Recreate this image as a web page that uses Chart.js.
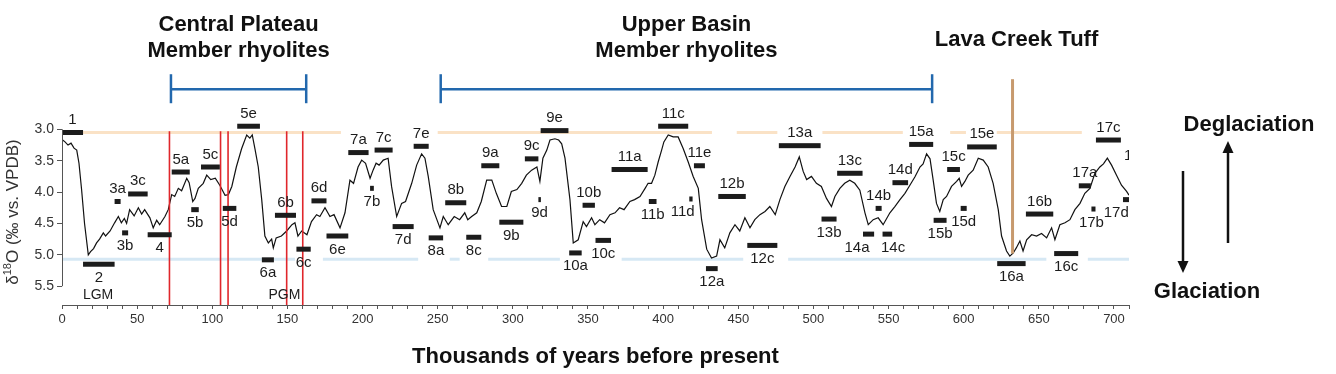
<!DOCTYPE html>
<html>
<head>
<meta charset="utf-8">
<title>Benthic δ18O record and marine isotope substages</title>
<script src="https://cdn.jsdelivr.net/npm/chart.js@4.4.1/dist/chart.umd.min.js"></script>
<style>
  html, body { margin: 0; padding: 0; background: #fff; }
  #wrap { width: 1336px; height: 374px; }
</style>
</head>
<body>
<div id="wrap"><canvas id="isoChart" width="1336" height="374"></canvas></div>
<script>
const FONT = "'Liberation Sans', Arial, Helvetica, sans-serif";

// d18O curve (age in ka, value in permil vs. VPDB)
const ages = [0, 2, 4, 6, 8, 9.8, 11.3, 13, 15, 17.5, 19, 21, 23, 25, 27.5, 29, 32, 35, 37.5, 39.5,
  41.5, 43, 45, 48, 50.8, 53, 55, 58.5, 60.7, 63, 65, 68.5, 70.7, 73, 75, 77.4, 79.6, 83, 84.6, 87,
  88.5, 90.7, 94, 96.3, 99, 102, 105, 108.5, 110.7, 113, 116, 119.5, 122.9, 125, 126.6, 128.4, 130.6, 132.9, 135, 137.3,
  139.5, 140.6, 142.5, 146, 149.5, 153, 155, 157, 159.5, 163, 166, 169.4, 171.6, 175, 178.3, 181, 185, 188.3, 191.6, 194,
  197, 199.4, 202, 205, 207, 209, 211, 213.8, 217, 219.3, 222.7, 226, 228.6, 232.7, 236, 239.3, 241.5, 243.7, 247, 251.5,
  253.7, 257, 261, 264.6, 268, 270, 272.6, 276, 279, 282.6, 286, 289, 292.5, 296, 299, 302.7, 305.9, 309, 312.5, 316,
  318, 320, 322.6, 324.7, 328, 330.5, 332.5, 334.7, 338, 340.2, 343.5, 346.8, 349, 352.4, 354.6, 357.8, 361, 364.6, 368, 371,
  374, 377.9, 381, 384.6, 388, 390, 392.3, 394.5, 396.7, 399, 400.5, 403.4, 406.7, 410, 413.4, 416.7, 420, 423.4, 425.6, 429,
  432.2, 435.6, 437.8, 441, 444.4, 447.8, 451, 454.4, 457.8, 461, 464.4, 467.8, 471, 474.6, 477.7, 481, 484.4, 487.8, 490.6, 493.2,
  495.5, 498.7, 502, 505.3, 508.7, 512, 514.3, 517.6, 520.8, 524.2, 527.5, 530.9, 534.3, 536.5, 539.8, 543.1, 546.4, 550.9, 554.2, 557.6,
  560.9, 564.2, 567.5, 570.9, 573, 575.3, 577.6, 579.7, 581.9, 584.1, 586.4, 588.6, 591.9, 595.3, 597, 598.6, 600.8, 603, 606.3, 609.7,
  613, 616.3, 619.6, 623, 625.2, 628.5, 630.7, 633, 635, 637.4, 639.5, 641.9, 645.2, 648.5, 651.8, 655.2, 658.5, 660.7, 664, 667.4,
  670.7, 674, 677.4, 680.6, 684, 687.3, 690.6, 693, 695.6, 698.4, 701.7, 705, 708.4, 710];
const d18O = [3.16, 3.20, 3.25, 3.22, 3.30, 3.33, 3.54, 3.95, 4.50, 5.00, 4.95, 4.90, 4.81, 4.75, 4.65, 4.70, 4.62, 4.49, 4.39, 4.49,
  4.42, 4.50, 4.28, 4.38, 4.25, 4.35, 4.28, 4.41, 4.57, 4.45, 4.52, 4.39, 4.28, 4.04, 4.07, 3.94, 3.98, 3.78, 3.85, 4.15,
  4.10, 3.94, 3.86, 3.73, 3.80, 3.78, 3.89, 4.05, 4.04, 3.91, 3.60, 3.31, 3.09, 3.14, 3.09, 3.31, 3.60, 4.12, 4.70, 4.81,
  4.75, 4.89, 4.73, 4.70, 4.62, 4.52, 4.49, 4.70, 4.62, 4.68, 4.47, 4.36, 4.39, 4.25, 4.39, 4.36, 4.57, 4.33, 3.81, 3.86,
  3.60, 3.49, 3.54, 3.78, 3.65, 3.54, 3.57, 3.49, 3.46, 3.91, 4.39, 4.18, 4.15, 3.86, 3.57, 3.39, 3.46, 3.75, 4.28, 4.57,
  4.39, 4.52, 4.39, 4.44, 4.33, 4.44, 4.39, 4.33, 4.15, 3.81, 3.81, 4.02, 4.23, 4.23, 3.99, 3.96, 3.86, 3.73, 3.65, 3.60,
  3.83, 3.46, 3.33, 3.17, 3.15, 3.17, 3.23, 3.46, 4.12, 4.81, 4.76, 4.47, 4.55, 4.41, 4.52, 4.44, 4.49, 4.36, 4.33, 4.25,
  4.28, 4.15, 4.12, 4.07, 3.94, 3.86, 3.86, 3.73, 3.52, 3.33, 3.20, 3.09, 3.12, 3.12, 3.31, 3.52, 3.75, 3.94, 4.44, 4.91,
  5.05, 5.02, 4.76, 4.89, 4.65, 4.52, 4.62, 4.41, 4.57, 4.44, 4.36, 4.31, 4.23, 4.36, 4.12, 3.91, 3.75, 3.60, 3.44, 3.67,
  3.80, 3.75, 3.86, 3.91, 4.10, 4.23, 4.07, 3.94, 3.86, 3.81, 3.86, 3.97, 4.33, 4.52, 4.44, 4.41, 4.52, 4.33, 4.23, 4.12,
  4.02, 3.89, 3.76, 3.60, 3.55, 3.39, 3.47, 3.81, 4.18, 4.31, 4.12, 4.07, 3.91, 3.83, 3.78, 3.91, 3.83, 3.73, 3.65, 3.46,
  3.49, 3.60, 3.86, 4.28, 4.70, 4.94, 5.02, 4.97, 4.89, 4.78, 4.94, 4.76, 4.68, 4.70, 4.66, 4.73, 4.57, 4.76, 4.52, 4.49,
  4.44, 4.28, 4.18, 4.02, 3.94, 3.70, 3.60, 3.55, 3.46, 3.57, 3.73, 3.89, 3.99, 4.05];

// marine isotope substages: name, age span (ka), level (permil), label above (a) or below (b)
const stageNames = ['1', '2', '3a', '3b', '3c', '4', '5a', '5b', '5c', '5d', '5e', '6a', '6b', '6c', '6d', '6e',
  '7a', '7b', '7c', '7d', '7e', '8a', '8b', '8c', '9a', '9b', '9c', '9d', '9e', '10a', '10b', '10c',
  '11a', '11b', '11c', '11d', '11e', '12a', '12b', '12c', '13a', '13b', '13c', '14a', '14b', '14c', '14d',
  '15a', '15b', '15c', '15d', '15e', '16a', '16b', '16c', '17a', '17b', '17c', '17d', '17e'];
const stageFrom = [0, 14, 35, 40, 44, 57, 73, 86, 92.5, 107, 116.6, 133, 141.7, 156, 166, 176,
  190.5, 205, 208, 220, 234, 244, 255, 269, 279, 291, 308, 317, 318.5, 337.5, 346.4, 355,
  365.7, 390.5, 396.7, 417.4, 420.5, 428.5, 436.7, 456, 477, 505.4, 515.8, 533, 541.4, 546, 552.6,
  563.7, 580, 589, 598, 602.3, 622.3, 641.4, 660.2, 676.6, 685, 688, 706, 714];
const stageTo = [14, 35, 39, 44, 57, 73, 85, 91, 105, 116, 131.7, 141, 155.7, 165.5, 176, 190.5,
  204, 207.5, 220, 234, 244, 253.6, 269, 279, 291, 307, 317, 318.5, 337, 345.8, 354.6, 365.3,
  389.7, 395.6, 416.7, 419.6, 427.8, 436.3, 455, 476, 504.8, 515.4, 532.7, 540.4, 545.4, 552.4, 563,
  579.7, 588.6, 597.5, 602, 622, 641.2, 659.6, 676.2, 684.6, 687.7, 704.6, 716, 724];
const stageLevel = [3.05, 5.15, 4.15, 4.65, 4.03, 4.68, 3.68, 4.28, 3.60, 4.26, 2.95, 5.08, 4.37, 4.91, 4.14, 4.70,
  3.37, 3.94, 3.33, 4.55, 3.27, 4.73, 4.17, 4.72, 3.58, 4.48, 3.47, 4.12, 3.02, 4.97, 4.21, 4.77,
  3.64, 4.15, 2.95, 4.11, 3.58, 5.22, 4.07, 4.85, 3.26, 4.43, 3.70, 4.67, 4.26, 4.67, 3.85,
  3.24, 4.45, 3.64, 4.26, 3.28, 5.14, 4.35, 4.98, 3.90, 4.27, 3.17, 4.12, 3.62];
const stageSide = ['a', 'b', 'a', 'b', 'a', 'b', 'a', 'b', 'a', 'b', 'a', 'b', 'a', 'b', 'a', 'b',
  'a', 'b', 'a', 'b', 'a', 'b', 'a', 'b', 'a', 'b', 'a', 'b', 'a', 'b', 'a', 'b',
  'a', 'b', 'a', 'b', 'a', 'b', 'a', 'b', 'a', 'b', 'a', 'b', 'a', 'b', 'a',
  'a', 'b', 'a', 'b', 'a', 'b', 'a', 'b', 'a', 'b', 'a', 'b', 'a'];
// a few labels sit off their bar's centre
const labelAge = { '11d': 413, '14a': 529, '14c': 553, '17b': 685, '17d': 701.5, '17e': 715 };

// glacial maxima notes
const noteText = ['LGM', 'PGM'];
const noteAge = [24, 148];
const noteLevel = [5.64, 5.64];

// interglacial (top) and glacial (bottom) reference levels, drawn in pieces
const interglacialLevel = 3.05;
const interglacialSpans = [[0, 185.6], [250, 432.5], [449, 476], [506, 559.5], [591, 601.5], [622, 678.6]];
const glacialLevel = 5.07;
const glacialSpans = [[0, 155], [173.6, 237], [258, 264.6], [283.6, 331.3], [372.4, 453.3], [483.2, 655], [682.6, 710]];

// eruption ages (red lines) and member brackets
const eruptionAges = [71.5, 105.5, 110.5, 149.5, 160.2];
const memberNames = [['Central Plateau', 'Member rhyolites'], ['Upper Basin', 'Member rhyolites']];
const memberFrom = [72.5, 252];
const memberTo = [162.5, 579];
const bracketLevel = 2.36;
const lavaCreekAge = 632.5;
const lavaCreekFrom = 2.2;
const lavaCreekTo = 4.98;

const xTickValues = [];
for (let v = 0; v <= 710; v += 10) xTickValues.push(v);
const yTickValues = [3.0, 3.5, 4.0, 4.5, 5.0, 5.5];

const px = (chart, age) => chart.scales.x.getPixelForValue(age);
const py = (chart, v) => chart.scales.y.getPixelForValue(v);

function hLine(ctx, x1, x2, y) {
  ctx.beginPath();
  ctx.moveTo(x1, y);
  ctx.lineTo(x2, y);
  ctx.stroke();
}

function vLine(ctx, x, y1, y2) {
  ctx.beginPath();
  ctx.moveTo(x, y1);
  ctx.lineTo(x, y2);
  ctx.stroke();
}

function arrow(ctx, x, yFrom, yTo) {
  const dir = yTo > yFrom ? 1 : -1;
  ctx.beginPath();
  ctx.moveTo(x, yFrom);
  ctx.lineTo(x, yTo - dir * 10);
  ctx.stroke();
  ctx.beginPath();
  ctx.moveTo(x, yTo);
  ctx.lineTo(x - 5.5, yTo - dir * 12);
  ctx.lineTo(x + 5.5, yTo - dir * 12);
  ctx.closePath();
  ctx.fill();
}

const overlay = {
  id: 'overlay',
  beforeDatasetsDraw(chart) {
    const { ctx } = chart;
    ctx.save();
    ctx.lineWidth = 3;
    ctx.strokeStyle = '#fae2c6';
    interglacialSpans.forEach(([f, t]) => hLine(ctx, px(chart, f), px(chart, t), py(chart, interglacialLevel)));
    ctx.strokeStyle = '#d6e8f4';
    glacialSpans.forEach(([f, t]) => hLine(ctx, px(chart, f), px(chart, t), py(chart, glacialLevel)));
    ctx.restore();
  },
  afterDatasetsDraw(chart) {
    const { ctx, chartArea: area } = chart;
    ctx.save();

    // eruption ages
    ctx.strokeStyle = '#e0262b';
    ctx.lineWidth = 1.6;
    eruptionAges.forEach(a => vLine(ctx, px(chart, a), py(chart, 3.03), area.bottom));

    // stage bars and labels, clipped at the right edge like the original
    ctx.beginPath();
    ctx.rect(0, 0, area.right, chart.height);
    ctx.clip();
    ctx.fillStyle = '#1c1c1c';
    ctx.font = '15px ' + FONT;
    ctx.textAlign = 'center';
    ctx.textBaseline = 'alphabetic';
    stageNames.forEach((name, i) => {
      const x1 = px(chart, stageFrom[i]);
      const x2 = px(chart, stageTo[i]);
      const y = py(chart, stageLevel[i]);
      ctx.fillRect(x1, y - 2.5, Math.max(x2 - x1, 2.5), 5);
      const lx = labelAge[name] !== undefined ? px(chart, labelAge[name]) : (x1 + x2) / 2;
      const ly = stageSide[i] === 'a' ? y - 8.5 : y + 17.5;
      ctx.fillText(name, lx, ly);
    });
    ctx.font = '14px ' + FONT;
    ctx.textBaseline = 'middle';
    noteText.forEach((t, i) => ctx.fillText(t, px(chart, noteAge[i]), py(chart, noteLevel[i])));
    ctx.restore();

    // Lava Creek Tuff
    ctx.save();
    ctx.strokeStyle = '#c79a6e';
    ctx.lineWidth = 3;
    vLine(ctx, px(chart, lavaCreekAge), py(chart, lavaCreekFrom), py(chart, lavaCreekTo));
    ctx.restore();
  },
  afterDraw(chart) {
    const { ctx, chartArea: area } = chart;
    ctx.save();

    // y axis line only over the labelled range
    ctx.strokeStyle = '#555';
    ctx.lineWidth = 1;
    vLine(ctx, area.left + 0.5, py(chart, 3.0), py(chart, 5.5));

    // y axis title with superscript
    ctx.save();
    ctx.translate(12, 212);
    ctx.rotate(-Math.PI / 2);
    ctx.fillStyle = '#333';
    ctx.textAlign = 'left';
    ctx.textBaseline = 'alphabetic';
    const parts = [['δ', 17, 0], ['18', 11, -7], ['O (‰ vs. VPDB)', 17, 0]];
    let total = 0;
    parts.forEach(p => { ctx.font = p[1] + 'px ' + FONT; total += ctx.measureText(p[0]).width; });
    let cx = -total / 2;
    parts.forEach(p => {
      ctx.font = p[1] + 'px ' + FONT;
      ctx.fillText(p[0], cx, 6 + p[2]);
      cx += ctx.measureText(p[0]).width;
    });
    ctx.restore();

    // member brackets and titles
    ctx.strokeStyle = '#2268ad';
    ctx.lineWidth = 2.5;
    ctx.fillStyle = '#111';
    ctx.font = 'bold 22px ' + FONT;
    ctx.textAlign = 'center';
    ctx.textBaseline = 'middle';
    const by = py(chart, bracketLevel);
    memberNames.forEach((lines, i) => {
      const x1 = px(chart, memberFrom[i]);
      const x2 = px(chart, memberTo[i]);
      hLine(ctx, x1, x2, by);
      vLine(ctx, x1, by - 15, by + 14);
      vLine(ctx, x2, by - 15, by + 14);
      ctx.fillText(lines[0], (x1 + x2) / 2, by - 64);
      ctx.fillText(lines[1], (x1 + x2) / 2, by - 38);
    });
    ctx.fillText('Lava Creek Tuff', px(chart, lavaCreekAge) + 4, by - 49);

    // glaciation / deglaciation arrows
    ctx.strokeStyle = '#111';
    ctx.lineWidth = 2.5;
    arrow(ctx, 1183, 171, 273);
    arrow(ctx, 1228, 243, 141);
    ctx.fillText('Deglaciation', 1249, 125);
    ctx.fillText('Glaciation', 1207, 292);

    ctx.restore();
  }
};

new Chart(document.getElementById('isoChart'), {
  type: 'line',
  data: {
    datasets: [{
      data: ages.map((a, i) => ({ x: a, y: d18O[i] })),
      borderColor: '#111',
      borderWidth: 1.2,
      pointRadius: 0,
      tension: 0,
      fill: false
    }]
  },
  options: {
    responsive: false,
    animation: false,
    devicePixelRatio: 1,
    layout: { padding: { top: 98, right: 207, left: 0, bottom: 0 } },
    plugins: { legend: { display: false }, tooltip: { enabled: false } },
    scales: {
      x: {
        type: 'linear',
        min: 0,
        max: 710,
        afterBuildTicks: s => { s.ticks = xTickValues.map(v => ({ value: v })); },
        afterFit: s => { s.height = 69; },
        ticks: {
          autoSkip: false,
          maxRotation: 0,
          padding: 3,
          color: '#333',
          font: { family: FONT, size: 13 },
          callback: v => (v % 50 === 0 && v <= 700 ? String(v) : '')
        },
        grid: { drawOnChartArea: false, tickLength: 4, color: '#555' },
        border: { color: '#555', width: 1 },
        title: {
          display: true,
          text: 'Thousands of years before present',
          color: '#111',
          font: { family: FONT, size: 22, weight: 'bold' },
          padding: { top: 0, bottom: 4 }
        }
      },
      y: {
        type: 'linear',
        min: 2.5,
        max: 5.8,
        reverse: true,
        afterBuildTicks: s => { s.ticks = yTickValues.map(v => ({ value: v })); },
        afterFit: s => { s.width = 62; },
        ticks: {
          padding: 3,
          color: '#333',
          font: { family: FONT, size: 14 },
          callback: v => Number(v).toFixed(1)
        },
        grid: { drawOnChartArea: false, tickLength: 5, color: '#555' },
        border: { display: false }
      }
    }
  },
  plugins: [overlay]
});
</script>
</body>
</html>
